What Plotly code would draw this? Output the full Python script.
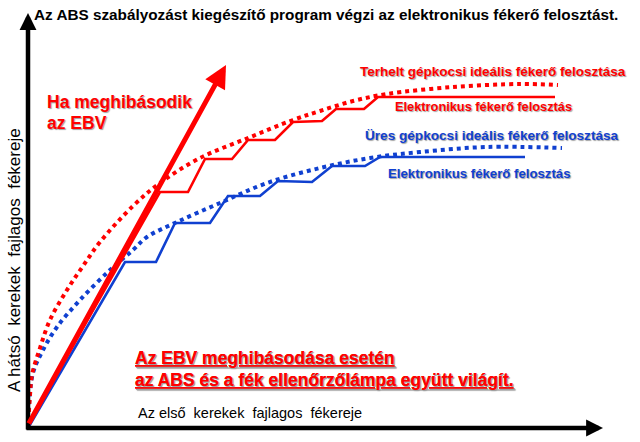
import plotly.graph_objects as go

# Chart units: x = front-wheel specific braking force, y = rear-wheel specific braking force
# (arbitrary units, origin at the axes crossing)

# Loaded vehicle ideal distribution (red dotted)
loaded_ideal_x = [0, 2, 4, 12, 22, 39, 55, 72, 105, 132, 172, 220, 265, 292, 325, 359, 425, 492, 530]
loaded_ideal_y = [0, 33, 53, 80, 108, 138, 162, 186, 222, 245, 270, 290, 308, 317, 327, 334, 341, 344, 343]

# Empty vehicle ideal distribution (blue dotted)
empty_ideal_x = [0, 1, 5, 15, 29, 52, 82, 105, 119, 149, 192, 239, 292, 342, 392, 459, 534]
empty_ideal_y = [0, 23, 55, 78, 101, 128, 158, 178, 191, 206, 225, 245, 260, 270, 276, 281, 280]

# Electronic brake-force distribution, loaded (red solid steps)
ebv_loaded_x = [0, 132, 160, 177, 204, 220, 247, 265, 294, 308, 336, 350, 527]
ebv_loaded_y = [3, 236, 236, 269, 269, 288, 288, 306, 307, 319, 319, 331, 331]

# Electronic brake-force distribution, empty (blue solid steps)
ebv_empty_x = [0, 97, 128, 147, 182, 200, 232, 250, 284, 304, 337, 352, 497]
ebv_empty_y = [0, 166, 166, 205, 205, 232, 232, 247, 246, 262, 262, 271, 271]

# Failed EBV: straight line (red arrow), start and end
fail_x = [0, 198]
fail_y = [3, 363]

RED = "#ff0000"
BLUE = "#1040d0"
FONT = "Liberation Sans"

fig = go.Figure()

fig.add_trace(go.Scatter(x=ebv_empty_x, y=ebv_empty_y, mode="lines",
                         line=dict(color=BLUE, width=2.6), hoverinfo="skip"))
fig.add_trace(go.Scatter(x=empty_ideal_x, y=empty_ideal_y, mode="lines",
                         line=dict(color=BLUE, width=4, dash="dot", shape="spline"), hoverinfo="skip"))
fig.add_trace(go.Scatter(x=ebv_loaded_x, y=ebv_loaded_y, mode="lines",
                         line=dict(color=RED, width=2.6), hoverinfo="skip"))
fig.add_trace(go.Scatter(x=loaded_ideal_x, y=loaded_ideal_y, mode="lines",
                         line=dict(color=RED, width=4, dash="dot", shape="spline"), hoverinfo="skip"))

annotations = []

# Axis arrows
annotations.append(dict(x=0, y=415, ax=0, ay=-3, xref="x", yref="y", axref="x", ayref="y",
                        text="", showarrow=True, arrowhead=2, arrowsize=0.75, arrowwidth=4.5,
                        arrowcolor="black"))
annotations.append(dict(x=575, y=0, ax=-3, ay=0, xref="x", yref="y", axref="x", ayref="y",
                        text="", showarrow=True, arrowhead=2, arrowsize=0.75, arrowwidth=4.5,
                        arrowcolor="black"))
# Red arrow (failed EBV)
annotations.append(dict(x=fail_x[1], y=fail_y[1], ax=fail_x[0], ay=fail_y[0],
                        xref="x", yref="y", axref="x", ayref="y",
                        text="", showarrow=True, arrowhead=2, arrowsize=0.9, arrowwidth=5,
                        arrowcolor=RED))

shadow = "1px 1px 1px #a0a0a0"

def txt(x, y, s, size, color, bold=True, angle=0, xanchor="left", sh=False):
    annotations.append(dict(x=x, y=y, xref="x", yref="y", text=s, showarrow=False,
                            xanchor=xanchor, yanchor="middle", textangle=angle,
                            font=dict(family=FONT, size=size, color=color,
                                      weight="bold" if bold else "normal",
                                      shadow=shadow if sh else "none")))

txt(4, 414, "Az ABS szabályozást kiegészítő program végzi az elektronikus fékerő felosztást.",
    15.3, "black")
txt(17, 326, "Ha meghibásodik", 17.5, RED, sh=True)
txt(17, 305, "az EBV", 17.5, RED, sh=True)
txt(330, 357, "Terhelt gépkocsi ideális fékerő felosztása", 13.5, RED, sh=True)
txt(365, 322, "Elektronikus fékerő felosztás", 12.8, RED, sh=True)
txt(335, 293, "Üres gépkocsi ideális fékerő felosztása", 13.6, BLUE, sh=True)
txt(358, 255, "Elektronikus fékerő felosztás", 13.2, BLUE, sh=True)
txt(105, 70, "<u>Az EBV meghibásodása esetén</u>", 17.5, RED, sh=True)
txt(105, 48, "<u>az ABS és a fék ellenőrzőlámpa együtt világít.</u>", 17.5, RED, sh=True)
txt(108, 15, "Az első  kerekek  fajlagos  fékereje", 14.5, "black", bold=False)
txt(-14, 168, "A hátsó  kerekek  fajlagos  fékereje", 17, "black", bold=False, angle=-90,
    xanchor="center")

fig.update_layout(
    width=640, height=442,
    margin=dict(l=0, r=0, t=0, b=0),
    paper_bgcolor="white", plot_bgcolor="white",
    showlegend=False,
    xaxis=dict(range=[-28, 612], visible=False, fixedrange=True),
    yaxis=dict(range=[-14, 428], visible=False, fixedrange=True),
    annotations=annotations,
)

fig.write_html("out.html",
               config={"displayModeBar": False, "staticPlot": True},
               post_script="document.body.style.margin='0';document.body.style.overflow='hidden';")
